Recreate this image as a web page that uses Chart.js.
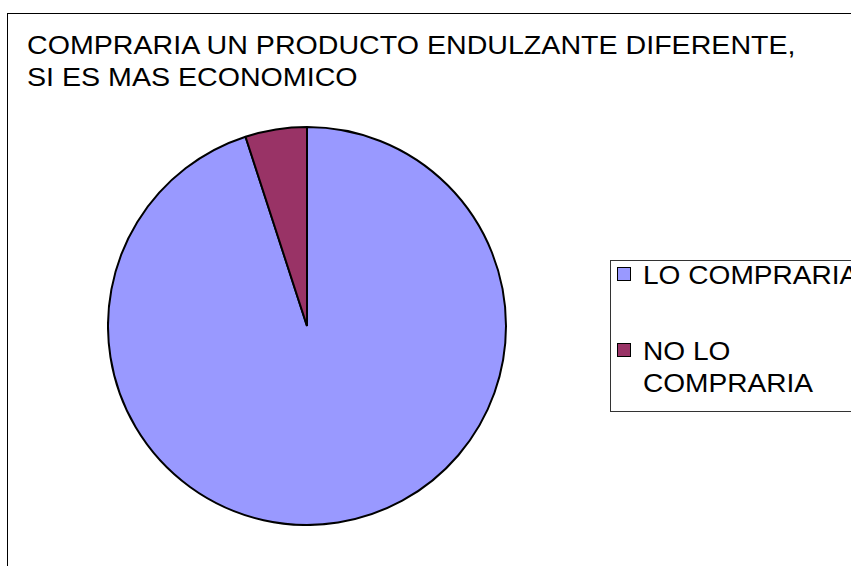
<!DOCTYPE html>
<html>
<head>
<meta charset="utf-8">
<script src="https://cdn.jsdelivr.net/npm/chart.js@4.4.0/dist/chart.umd.min.js"></script>
<style>
    html, body { margin: 0; padding: 0; background: #fff; }
    body { width: 851px; height: 566px; overflow: hidden; position: relative;
           font-family: "Liberation Sans", Arial, sans-serif; color: #000; }
    #frame { position: absolute; left: 7px; top: 13px; width: 1000px; height: 800px;
             border: 1.5px solid #000; box-sizing: border-box; }
    #title { position: absolute; left: 27px; top: 29px; font-size: 26px; line-height: 32px;
             white-space: nowrap; transform: scaleX(1.1); transform-origin: 0 0; }
    #pie { position: absolute; left: 107px; top: 126px; width: 400px; height: 400px; }
    #legend { position: absolute; left: 610px; top: 260px; width: 400px; height: 152px;
              border: 1px solid #333; box-sizing: border-box; }
    .item { position: absolute; left: 0; font-size: 26px; line-height: 32px; white-space: nowrap; }
    .swatch { position: absolute; left: 6px; width: 14px; height: 14px;
              border: 1.5px solid #000; box-sizing: border-box; }
    .label { position: absolute; left: 32px; transform: scaleX(1.08); transform-origin: 0 0; }
</style>
</head>
<body>
<div id="frame"></div>
<div id="title"></div>
<div id="pie"><canvas id="chart"></canvas></div>
<div id="legend"></div>
<script>
const titleLines = ['COMPRARIA UN PRODUCTO ENDULZANTE DIFERENTE,', 'SI ES MAS ECONOMICO'];
const labels = [['LO COMPRARIA'], ['NO LO', 'COMPRARIA']];
const values = [95, 5];
const colors = ['#9999FF', '#993366'];

// title
document.getElementById('title').innerHTML = titleLines.join('<br>');

// legend (html, so long labels can wrap like the original)
const legendTops = [-2, 74];
const legend = document.getElementById('legend');
labels.forEach((lines, i) => {
    const item = document.createElement('div');
    item.className = 'item';
    item.style.top = legendTops[i] + 'px';
    const sw = document.createElement('div');
    sw.className = 'swatch';
    sw.style.top = '8px';
    sw.style.background = colors[i];
    const lab = document.createElement('div');
    lab.className = 'label';
    lab.innerHTML = lines.join('<br>');
    item.appendChild(sw);
    item.appendChild(lab);
    legend.appendChild(item);
});

const ctx = document.getElementById('chart').getContext('2d');
new Chart(ctx, {
    type: 'pie',
    data: {
        labels: labels,
        datasets: [{
            data: values,
            backgroundColor: colors,
            borderColor: '#000',
            borderWidth: 2,
            hoverOffset: 0
        }]
    },
    options: {
        responsive: true,
        maintainAspectRatio: false,
        animation: false,
        layout: { padding: 0 },
        plugins: {
            legend: { display: false },
            title: { display: false },
            tooltip: { enabled: false }
        }
    }
});
</script>
</body>
</html>
